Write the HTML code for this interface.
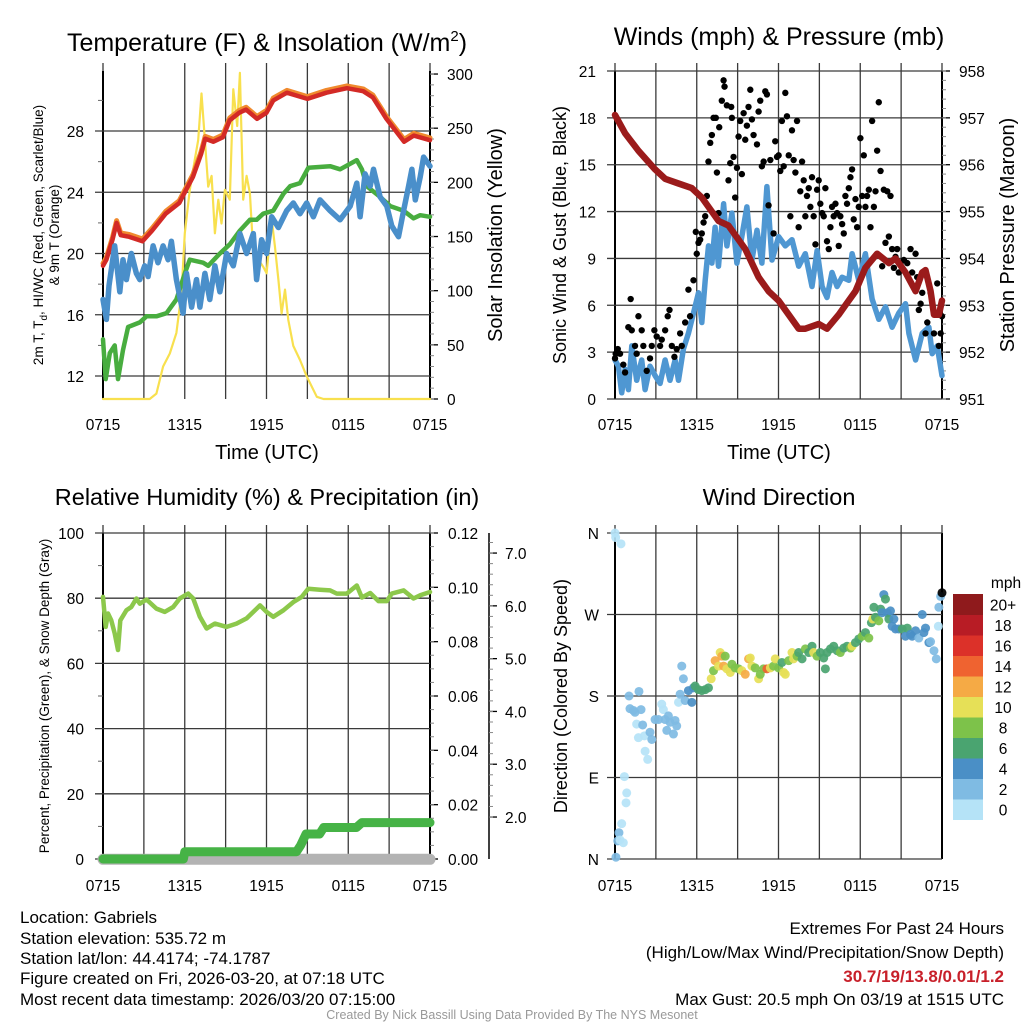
<!DOCTYPE html>
<html><head><meta charset="utf-8"><style>
html,body{margin:0;padding:0;background:#fff;}
svg{display:block;font-family:"Liberation Sans",Arial,sans-serif;}
.foot{font-family:"Liberation Sans Narrow","Liberation Sans",sans-serif;}
</style></head><body>
<svg id="fig" width="1024" height="1024" viewBox="0 0 1024 1024">
<g id="titles">
<text x="267" y="51" font-size="25" text-anchor="middle">Temperature (F) &amp; Insolation (W/m<tspan font-size="15" dy="-10">2</tspan><tspan dy="10">)</tspan></text>
<text x="779" y="45" font-size="25" text-anchor="middle">Winds (mph) &amp; Pressure (mb)</text>
<text x="267" y="505" font-size="23.5" text-anchor="middle">Relative Humidity (%) &amp; Precipitation (in)</text>
<text x="779" y="505" font-size="23.5" text-anchor="middle">Wind Direction</text>
</g>
<g id="layer"></g>
<g class="foot" font-size="17">
<text x="20" y="923">Location: Gabriels</text>
<text x="20" y="944">Station elevation: 535.72 m</text>
<text x="20" y="964">Station lat/lon: 44.4174; -74.1787</text>
<text x="20" y="984">Figure created on Fri, 2026-03-20, at 07:18 UTC</text>
<text x="20" y="1005">Most recent data timestamp: 2026/03/20 07:15:00</text>
<text x="1004" y="934" text-anchor="end">Extremes For Past 24 Hours</text>
<text x="1004" y="958" text-anchor="end">(High/Low/Max Wind/Precipitation/Snow Depth)</text>
<text x="1004" y="982" text-anchor="end" fill="#c8202a" font-weight="bold">30.7/19/13.8/0.01/1.2</text>
<text x="1004" y="1005" text-anchor="end">Max Gust: 20.5 mph On 03/19 at 1515 UTC</text>
<text x="512" y="1019" text-anchor="middle" font-size="12.5" fill="#999">Created By Nick Bassill Using Data Provided By The NYS Mesonet</text>
</g>
</svg>
<script>
// ---------- data (time in hours since 0715 UTC) ----------
const timeTickLabels = ["0715","1315","1915","0115","0715"];
const tempH = [0,0.25,0.7,1.0,1.3,1.9,2.9,3.6,4.6,5.6,6.0,6.6,7.2,7.5,8.1,8.8,9.3,10.0,10.5,11.3,12.0,12.5,13.5,15.0,16.4,17.9,19.1,19.8,20.8,22.1,22.8,24];
const tempV = [19.2,19.6,20.9,22.0,21.2,21.1,20.8,21.5,22.6,23.3,24.0,25.0,26.5,27.5,27.3,27.6,28.7,29.2,29.4,28.8,29.2,30.0,30.5,30.1,30.5,30.8,30.6,30.2,28.8,27.3,27.7,27.4];
const dewH = [0,0.2,0.5,0.86,1.1,1.47,1.84,2.7,3.19,3.92,4.66,5.39,6.0,6.37,7.35,7.72,8.58,9.31,10.05,10.78,11.27,11.76,12.5,13.24,13.73,14.46,15.07,16.67,17.4,18.63,19.0,19.36,20.34,21.08,22.06,22.79,23.28,24];
const dewV = [14.4,11.8,13.5,14.0,11.8,13.7,15.2,15.5,15.9,15.9,16.1,17.0,18.7,19.6,19.4,19.2,20.0,20.6,21.5,22.2,22.2,22.6,22.8,23.9,24.4,24.6,25.6,25.7,25.5,26.1,25.5,24.4,23.7,23.1,22.8,22.3,22.5,22.4];
const wcH = [0,0.25,0.44,0.86,1.23,1.47,1.72,2.08,2.45,2.7,3.06,3.31,3.68,4.04,4.41,4.78,5.02,5.39,5.88,6.13,6.5,6.86,7.11,7.48,7.84,8.21,8.58,9.07,9.56,10.05,10.54,11.03,11.27,11.64,12.01,12.38,12.87,13.48,13.97,14.46,14.95,15.44,15.93,16.67,17.4,18.14,18.63,18.87,19.24,19.61,19.85,20.34,20.83,21.2,21.69,22.06,22.43,22.67,22.92,23.28,23.53,24];
const wcV = [17.0,15.7,17.9,20.5,17.5,19.6,18.3,20.0,18.7,18.3,19.2,18.5,20.5,19.4,20.5,19.6,20.8,18.3,16.1,18.7,16.5,18.3,16.5,18.7,17.0,19.2,17.5,20.0,19.2,21.3,20.0,21.3,18.3,20.9,20.0,22.4,21.7,22.8,23.3,22.6,23.3,22.4,23.5,22.8,22.2,23.1,24.6,22.4,25.2,24.4,25.5,23.7,23.1,21.8,21.1,22.8,24.4,25.5,23.5,25.0,26.3,25.7];
const solarH = [0,3.43,3.92,4.41,4.9,5.39,5.76,6.0,6.37,6.74,6.99,7.23,7.48,7.72,7.97,8.21,8.46,8.7,8.95,9.31,9.56,9.85,10.05,10.29,10.54,10.78,11.03,11.4,11.76,12.01,12.38,12.62,12.87,13.11,13.36,13.6,13.97,14.46,14.95,15.69,16.18,24];
const solarV = [0,0,5,30,42,61,98,153,193,221,239,282,239,196,206,153,184,162,193,184,286,252,301,184,206,190,135,129,122,116,166,141,110,79,101,73,49,36,21,2,0,0];
const presH = [0,0.74,1.72,2.94,3.68,4.66,5.64,6.37,7.6,8.33,9.56,10.54,11.27,12.01,12.75,13.48,13.97,14.95,15.56,16.42,16.91,17.65,18.38,19.24,20.1,20.59,21.32,22.06,22.55,22.79,23.16,23.41,23.77,24];
const presV = [957.06,956.67,956.3,955.9,955.7,955.6,955.5,955.3,954.8,954.7,954.2,953.6,953.3,953.1,952.8,952.5,952.5,952.6,952.5,952.8,953.0,953.3,953.8,954.1,953.9,954.0,953.7,953.3,953.7,953.75,953.3,952.8,952.8,953.1];
const windH = [0,0.25,0.49,0.74,0.98,1.23,1.59,1.96,2.21,2.57,2.94,3.31,3.68,4.04,4.41,4.66,5.02,5.39,5.76,6.13,6.37,6.62,6.86,7.11,7.35,7.6,7.97,8.21,8.58,8.95,9.31,9.68,10.05,10.42,10.78,11.15,11.52,12.01,12.5,12.99,13.48,13.97,14.46,14.83,15.2,15.56,15.93,16.3,16.67,17.16,17.4,17.89,18.38,18.87,19.36,19.85,20.34,20.83,21.32,21.57,22.06,22.55,23.04,23.28,23.65,24];
const windV = [2.5,2.1,0.4,1.9,0.6,3.4,1.2,2.5,0.6,2.1,1.5,1.0,2.5,1.2,2.5,1.2,3.2,4.2,5.5,6.8,4.9,7.6,9.8,8.7,11.0,8.5,12.5,9.8,11.9,8.7,10.4,12.3,8.9,10.8,8.7,13.6,8.9,10.4,9.8,10.2,8.5,9.3,7.2,9.5,7.2,6.5,8.1,7.2,7.8,7.6,9.3,7.6,9.3,6.4,5.1,5.9,4.6,5.5,6.1,4.2,2.5,4.2,4.6,2.9,3.4,1.5];
const gustH = [0,0.05,0.2,0.37,0.61,0.74,0.98,1.15,1.23,1.47,1.59,1.72,1.96,2.08,2.33,2.57,2.7,2.89,3.06,3.31,3.43,3.68,3.87,4.0,4.17,4.36,4.53,4.78,4.9,5.15,5.39,5.51,5.76,5.93,6.0,6.13,6.25,6.37,6.5,6.62,6.74,6.86,6.99,7.11,7.23,7.4,7.48,7.6,7.65,7.84,7.97,8.04,8.21,8.33,8.46,8.53,8.58,8.7,8.82,8.95,9.07,9.19,9.31,9.44,9.56,9.68,9.8,9.93,10.05,10.17,10.42,10.54,10.66,10.78,10.91,11.03,11.15,11.27,11.4,11.64,11.76,11.89,12.01,12.13,12.25,12.38,12.5,12.62,12.75,12.87,12.99,13.11,13.24,13.36,13.48,13.6,13.73,13.85,13.97,14.09,14.22,14.34,14.46,14.58,14.71,14.83,14.95,15.07,15.2,15.32,15.44,15.56,15.69,15.81,15.93,16.05,16.18,16.3,16.42,16.54,16.67,16.79,16.91,17.03,17.16,17.28,17.4,17.52,17.65,17.77,17.89,18.01,18.14,18.26,18.38,18.5,18.63,18.75,18.87,19.0,19.12,19.24,19.36,19.49,19.61,19.73,19.85,19.98,20.1,20.22,20.34,20.47,20.59,20.71,20.83,20.96,21.2,21.45,21.69,21.81,22.06,22.18,22.3,22.43,22.55,22.79,22.92,23.16,23.41,23.65,23.77,23.9,24];
const gustV = [2.6,2.9,3.2,2.9,2.2,1.7,4.6,6.4,4.4,3.4,2.9,5.3,4.4,3.4,1.8,2.6,3.4,4.4,4.0,3.4,3.8,4.4,5.3,5.7,3.4,2.7,3.2,4.2,3.4,4.9,7.0,5.3,7.6,10.7,9.3,10.0,10.2,10.6,11.3,11.7,13.0,15.2,16.4,16.9,18.0,18.0,14.5,11.9,17.4,19.1,20.4,20.0,18.8,14.0,15.1,18.7,18.0,15.5,12.9,14.8,16.8,17.8,14.4,18.3,16.6,17.5,18.7,19.8,17.9,16.9,16.3,18.4,19.1,14.9,15.2,19.7,19.5,12.4,15.3,10.6,16.5,15.5,15.6,14.6,17.8,14.9,19.6,18.1,15.6,11.7,17.2,15.3,14.5,17.8,11.0,13.3,15.2,14.0,11.7,13.0,13.5,12.3,14.2,11.7,9.9,13.4,14.0,12.5,11.9,11.7,13.5,10.1,9.6,11.0,12.3,11.7,12.5,11.9,9.8,11.7,11.2,10.6,13.0,12.5,13.5,14.2,14.7,11.5,12.8,11.0,12.3,16.7,13.0,15.6,12.3,13.0,13.4,11.0,17.8,12.3,13.3,15.9,19.0,14.6,8.5,13.4,10.0,13.3,10.4,13.0,9.6,8.4,9.1,9.6,8.1,8.7,8.9,8.7,9.6,8.1,9.3,7.8,5.7,6.1,6.8,4.2,4.9,6.8,4.2,7.4,3.4,4.2,5.3];
const rhH = [0,0.2,0.37,0.61,0.86,1.1,1.27,1.72,2.08,2.45,2.7,3.19,3.92,4.53,5.15,5.64,6.25,6.62,7.11,7.6,8.21,9.07,9.8,10.54,11.52,12.01,12.5,13.24,13.97,14.58,15.07,15.93,16.67,17.16,17.89,18.63,19.0,19.61,20.22,20.83,21.2,22.06,22.79,23.28,24];
const rhV = [80.4,71.2,75.3,73.2,69.2,64.1,73.2,76.3,77.3,79.9,78.3,79.6,76.8,75.8,77.3,79.9,81.4,79.9,74.3,70.7,72.2,71.2,72.2,73.8,77.8,75.8,74.3,76.3,78.8,80.4,82.9,82.6,82.4,81.4,81.4,83.9,80.2,81.6,79.1,79.1,81.4,82.4,79.9,80.9,81.9];
const precipH = [0,5.9,6.0,14.2,14.5,14.9,15.9,16.2,18.6,19.0,24];
const precipV = [0,0,0.0027,0.0027,0.005,0.0092,0.0092,0.0116,0.0116,0.0134,0.0134];
const snowH = [0,24];
const snowV = [1.2,1.2];
const dirH = [0,0.05,0.44,0.07,0.29,0.2,0.37,0.61,0.49,0.86,0.81,0.69,1.03,1.1,1.35,1.47,1.76,1.91,1.59,2.03,1.72,2.16,2.21,2.4,2.57,2.7,2.94,3.19,3.43,3.55,3.68,3.92,3.8,4.04,4.29,4.41,4.53,4.66,4.78,4.9,5.02,5.15,5.39,5.64,5.76,5.88,6.13,6.37,6.62,6.86,7.06,7.23,7.35,7.6,7.72,7.84,7.97,8.09,8.21,8.46,8.58,8.82,9.07,9.31,9.56,9.8,9.93,10.05,10.29,10.54,10.66,10.91,11.15,11.4,11.64,11.76,12.01,12.25,12.38,12.5,12.75,12.99,13.11,13.36,13.48,13.73,13.97,14.22,14.46,14.58,14.83,15.07,15.32,15.44,15.56,15.81,16.05,16.3,16.54,16.79,17.03,17.28,17.4,17.65,17.89,18.14,18.38,18.63,18.82,18.92,19.0,19.12,19.36,19.49,19.61,19.73,19.85,19.98,20.1,20.22,20.34,20.47,20.59,20.83,21.08,21.32,21.45,21.69,21.81,22.06,22.3,22.55,22.67,22.79,23.04,23.16,23.41,23.58,23.73,23.77,23.9,24];
const dirV = [360,355,348,2,29,20,21,18,39,73,62,91,180,166,164,162,185,165,149,148,134,136,119,110,140,132,154,154,171,165,154,158,142,151,138,153,147,173,182,213,199,175,186,173,189,191,187,186,187,189,199,208,219,213,228,224,213,224,210,206,215,211,210,208,204,221,222,213,211,199,204,210,210,211,213,221,211,217,206,204,219,228,221,224,228,221,232,228,235,228,224,228,222,210,228,232,235,230,228,233,235,233,235,239,243,246,250,244,261,265,278,267,263,276,272,292,287,272,265,274,257,265,254,254,254,246,255,248,246,252,244,270,250,255,239,240,230,221,257,278,290,294];
const dirSpd = [0.5,1,0.5,2,2,2,1,0.5,0.5,0.5,0.5,0.5,3,2,2,2,3,2,1,2,1,1,0.5,0.5,3,3,2,2,0.5,1,2,2,2,2,2,2,2,1,2,2,2,2,4,4,5,6,6,7,7,7,10,8,12,10,10,13,12,8,10,10,9,8,9,10,13,12,10,10,8,10,9,8,15,11,8,10,9,7,10,10,8,10,10,8,7,7,8,7,7,10,8,7,6,6,6,7,6,6,8,6,7,8,10,7,7,8,7,8,6,10,6,7,8,6,5,4,6,4,6,4,4,4,4,4,6,4,6,4,4,4,3,4,4,4,4,3,3,3,1,3,3];
const legendLabels = ["0","2","4","6","8","10","12","14","16","18","20+"];
const legendColors = ["#b5e3f7","#7fbbe3","#4a8fc6","#4aa470","#7dc24a","#e6e057","#f5aa45","#ef6330","#dc3129","#b81c25","#8f1a1c"];

// ---------- helpers ----------
const NS="http://www.w3.org/2000/svg";
const layer=document.getElementById('layer');
function mk(tag,attrs,parent){const e=document.createElementNS(NS,tag);for(const k in attrs)e.setAttribute(k,attrs[k]);(parent||layer).appendChild(e);return e;}
function lin(d0,d1,r0,r1){return v=>r0+(v-d0)*(r1-r0)/(d1-d0);}
function pathOf(H,V,sx,sy){return H.map((h,i)=>(i?'L':'M')+sx(h).toFixed(1)+','+sy(V[i]).toFixed(1)).join('');}

const panels={
 temp:{x0:103,x1:430,y0:71,y1:399},
 wind:{x0:615,x1:942,y0:71,y1:399},
 rh:{x0:103,x1:430,y0:533,y1:859},
 dir:{x0:615,x1:942,y0:533,y1:859}
};
const GRID="#3a3a3a";

function frame(p,name,labelY){
  const g=mk('g',{});
  
  
  const sx=lin(0,24,p.x0,p.x1);
  for(let h=0;h<=24;h+=3){
    const x=sx(h);
    const ln=mk('line',{x1:x,x2:x,y1:p.y0-8,y2:p.y1,stroke:GRID,'stroke-width':1.3},g);
    
    
  }
  timeTickLabels.forEach((t,i)=>{
    const tx=mk('text',{x:sx(i*6),y:labelY,'font-size':15.5,'text-anchor':'middle'},g);
    tx.textContent=t;
    
    
  });
  mk('line',{x1:p.x0,x2:p.x0,y1:p.y0,y2:p.y1,stroke:'#000','stroke-width':2},g);
  mk('line',{x1:p.x1,x2:p.x1,y1:p.y0,y2:p.y1,stroke:'#000','stroke-width':2},g);
  return sx;
}
function leftAxis(p,d0,d1,ticks,labels,minor,name,labelX){
  const sy=lin(d0,d1,p.y1,p.y0);
  const g=mk('g',{});
  
  
  ticks.forEach((v,i)=>{
    const y=sy(v);
    mk('line',{x1:p.x0-8,x2:p.x1,y1:y,y2:y,stroke:GRID,'stroke-width':1.3},g);
    const t=mk('text',{x:labelX,y:y+6,'font-size':15.5,'text-anchor':'end'},g);
    t.textContent=labels[i];
    
    
  });
  minor.forEach(v=>{const y=sy(v);mk('line',{x1:p.x0-5,x2:p.x0,y1:y,y2:y,stroke:'#666','stroke-width':1},g);});
  return sy;
}
function rightAxis(p,d0,d1,ticks,labels,minorStep,name,axX,labelX){
  const sy=lin(d0,d1,p.y1,p.y0);
  const g=mk('g',{});
  
  
  if(axX!==p.x1) mk('line',{x1:axX,x2:axX,y1:p.y0,y2:p.y1,stroke:'#000','stroke-width':1.5},g);
  ticks.forEach((v,i)=>{
    const y=sy(v);
    mk('line',{x1:axX,x2:axX+8,y1:y,y2:y,stroke:'#000','stroke-width':1.3},g);
    const t=mk('text',{x:labelX,y:y+6,'font-size':15.5},g);
    t.textContent=labels[i];
    
    
  });
  for(let v=ticks[0];v<=d1+1e-9;v+=minorStep){if(v<d0)continue;const y=sy(v);mk('line',{x1:axX,x2:axX+4,y1:y,y2:y,stroke:'#888','stroke-width':1},g);}
  return sy;
}
function series(d,stroke,w,name,extra){
  const e=mk('path',Object.assign({d:d,fill:'none',stroke:stroke,'stroke-width':w,'stroke-linejoin':'round','stroke-linecap':'round'},extra||{}));
  
  
  return e;
}
function label(x,y,txt,size,rot,name){
  const t=mk('text',{x:x,y:y,'font-size':size,'text-anchor':'middle',transform:rot?`rotate(-90 ${x} ${y})`:''});
  t.textContent=txt;
  
  
  return t;
}

// ---------- Temperature panel ----------
{
 const p=panels.temp;
 const sx=frame(p,'temperature',430);
 const sy=leftAxis(p,10.5,31.92,[12,16,20,24,28],["12","16","20","24","28"],[14,18,22,26,30],'temperature-left-axis',84);
 const ss=rightAxis(p,0,302.8,[0,50,100,150,200,250,300],["0","50","100","150","200","250","300"],10,'solar-right-axis',p.x1,447);
 series(pathOf(solarH,solarV,sx,ss),'#f8e04e',2.2,'solar-insolation-line');
 series(pathOf(tempH,tempV.map(v=>v+0.15),sx,sy),'#f08a2e',5,'nine-meter-temp-line');
 series(pathOf(tempH,tempV,sx,sy),'#d32a26',4.5,'temperature-line');
 series(pathOf(dewH,dewV,sx,sy),'#48ad3f',4.5,'dewpoint-line');
 series(pathOf(wcH,wcV,sx,sy),'#4a8fca',5.5,'wind-chill-line');
 label(267,459,'Time (UTC)',20,false,'temperature-x-axis-title');
 const t=mk('text',{x:43,y:235,'font-size':13.5,'text-anchor':'middle',transform:'rotate(-90 43 235)'});
 t.innerHTML='2m T, T<tspan font-size="10" dy="4">d</tspan><tspan dy="-4">, HI/WC (Red, Green, Scarlet/Blue)</tspan>';
 
 
 label(59,235,'& 9m T (Orange)',13.5,true,'temperature-y-axis-title-line2');
 label(502,235,'Solar Insolation (Yellow)',20,true,'solar-y-axis-title');
}
// ---------- Wind panel ----------
{
 const p=panels.wind;
 const sx=frame(p,'wind',430);
 const sy=leftAxis(p,0,21,[0,3,6,9,12,15,18,21],["0","3","6","9","12","15","18","21"],[],'wind-left-axis',596);
 const sp=rightAxis(p,951,958,[951,952,953,954,955,956,957,958],["951","952","953","954","955","956","957","958"],0.2,'pressure-right-axis',p.x1,959);
 series(pathOf(windH,windV,sx,sy),'#4f97d2',5.5,'sonic-wind-line');
 gustH.forEach((h,i)=>{
   const c=mk('circle',{cx:sx(h),cy:sy(gustV[i]),r:3.2,fill:'#000'});
   
   
 });
 series(pathOf(presH,presV,sx,sp),'#9b1b1b',6.5,'pressure-line');
 label(779,459,'Time (UTC)',20,false,'wind-x-axis-title');
 label(566,235,'Sonic Wind & Gust (Blue, Black)',18,true,'wind-y-axis-title');
 label(1014,235,'Station Pressure (Maroon)',20,true,'pressure-y-axis-title');
}
// ---------- RH panel ----------
{
 const p=panels.rh;
 const sx=frame(p,'humidity',891);
 const sy=leftAxis(p,0,100,[0,20,40,60,80,100],["0","20","40","60","80","100"],[10,30,50,70,90],'humidity-left-axis',84);
 const sq=rightAxis(p,0,0.12,[0,0.02,0.04,0.06,0.08,0.10,0.12],["0.00","0.02","0.04","0.06","0.08","0.10","0.12"],0.005,'precip-right-axis',p.x1,448);
 const sn=rightAxis(p,1.205,7.38,[2,3,4,5,6,7],["2.0","3.0","4.0","5.0","6.0","7.0"],0.2,'snow-depth-axis',489,505);
 series(pathOf(snowH,snowV,sx,sn),'#b3b3b3',11,'snow-depth-line');
 series(pathOf(precipH,precipV,sx,sq),'#46b346',9,'precipitation-line');
 series(pathOf(rhH,rhV,sx,sy),'#8cc84b',4.5,'relative-humidity-line');
 label(49,696,'Percent, Precipitation (Green), & Snow Depth (Gray)',13.5,true,'humidity-y-axis-title');
}
// ---------- Direction panel ----------
{
 const p=panels.dir;
 const sx=frame(p,'direction',891);
 const sy=leftAxis(p,0,360,[0,90,180,270,360],["N","E","S","W","N"],[],'direction-left-axis',599);
 function col(s){let i=Math.floor(s/2);if(i>10)i=10;return legendColors[i];}
 dirH.forEach((h,i)=>{
   const c=mk('circle',{cx:sx(h),cy:sy(dirV[i]),r:4.5,fill:col(dirSpd[i]),'fill-opacity':0.92});
   
   
 });
 label(567,696,'Direction (Colored By Speed)',18,true,'direction-y-axis-title');
 const lg=mk('g',{});
 
 
 const top=594,bh=20.5;
 legendColors.forEach((c,i)=>{
   const y=top+(10-i)*bh;
   const r=mk('rect',{x:953,y:y,width:30,height:bh+0.5,fill:c},lg);
   
   
   const t=mk('text',{x:1003,y:y+bh/2+6,'font-size':15.5,'text-anchor':'middle'},lg);
   t.textContent=legendLabels[i];
   
   
 });
 const u=mk('text',{x:1006,y:588,'font-size':15.5,'text-anchor':'middle'},lg);
 u.textContent='mph';
 
 
}
</script>
</body></html>
